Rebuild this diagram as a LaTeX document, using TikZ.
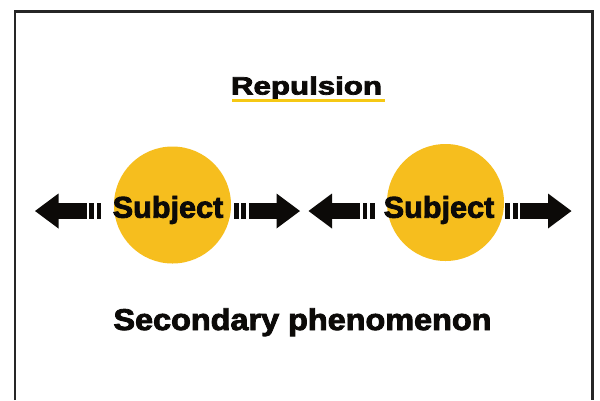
\documentclass[tikz,border=0pt]{standalone}
\usepackage{fontspec}
\newfontfamily\heavy{Liberation Sans Bold}[FakeBold=2.8]
\definecolor{sunyellow}{RGB}{246,190,30}
\definecolor{lineyellow}{RGB}{245,200,20}
\definecolor{inkblack}{RGB}{12,10,8}
\tikzset{
  frameline/.style={line width=2.5pt, draw=black!85},
  subjectdisc/.style={circle, fill=sunyellow, minimum size=117pt, inner sep=0pt},
  subjecttext/.style={anchor=base, inner sep=0pt, text=inkblack, font=\heavy\fontsize{30}{30}\selectfont},
  titletext/.style={anchor=base, inner sep=0pt, text=inkblack},
  pics/pusharrow/.style={code={
    \fill[inkblack] (0,0) -- (23.5,-17.5) -- (23.5,17.5) -- cycle;
    \fill[inkblack] (23,-7.8) rectangle (51.5,7.8);
    \fill[inkblack] (54,-7.8) rectangle (58.8,7.8);
    \fill[inkblack] (61.5,-7.8) rectangle (66.3,7.8);
  }}
}
\begin{document}
\begin{tikzpicture}[x=1pt, y=-1pt]
\useasboundingbox (0,0) rectangle (600,400);
\fill[white] (0,0) rectangle (600,400);
% frame (open at the bottom)
\draw[frameline] (15,400) -- (15,11.5) -- (592.5,11.5) -- (592.5,400);

% title
\node[titletext] (title) at (306.5,94.5)
  {\heavy\fontsize{25}{25}\selectfont\scalebox{1.25}[1]{Repulsion}};
\draw[lineyellow, line width=3pt] (232,100.5) -- (385,100.5);

% discs
\node[subjectdisc] (discL) at (172.5,205) {};
\node[subjectdisc] (discR) at (445.5,202.5) {};

% arrows
\pic at (35,211) {pusharrow};
\pic[xscale=-1] at (300,211) {pusharrow};
\pic at (308.5,211) {pusharrow};
\pic[xscale=-1] at (571.5,211) {pusharrow};

% subject labels
\node[subjecttext] (subjL) at (168,217.7) {\scalebox{1.02}[1]{Subject}};
\node[subjecttext] (subjR) at (439,217.7) {\scalebox{1.02}[1]{Subject}};

% caption
\node[titletext] (caption) at (302.5,330)
  {\heavy\fontsize{30}{30}\selectfont\scalebox{1.08}[1]{Secondary phenomenon}};
\end{tikzpicture}
\end{document}
